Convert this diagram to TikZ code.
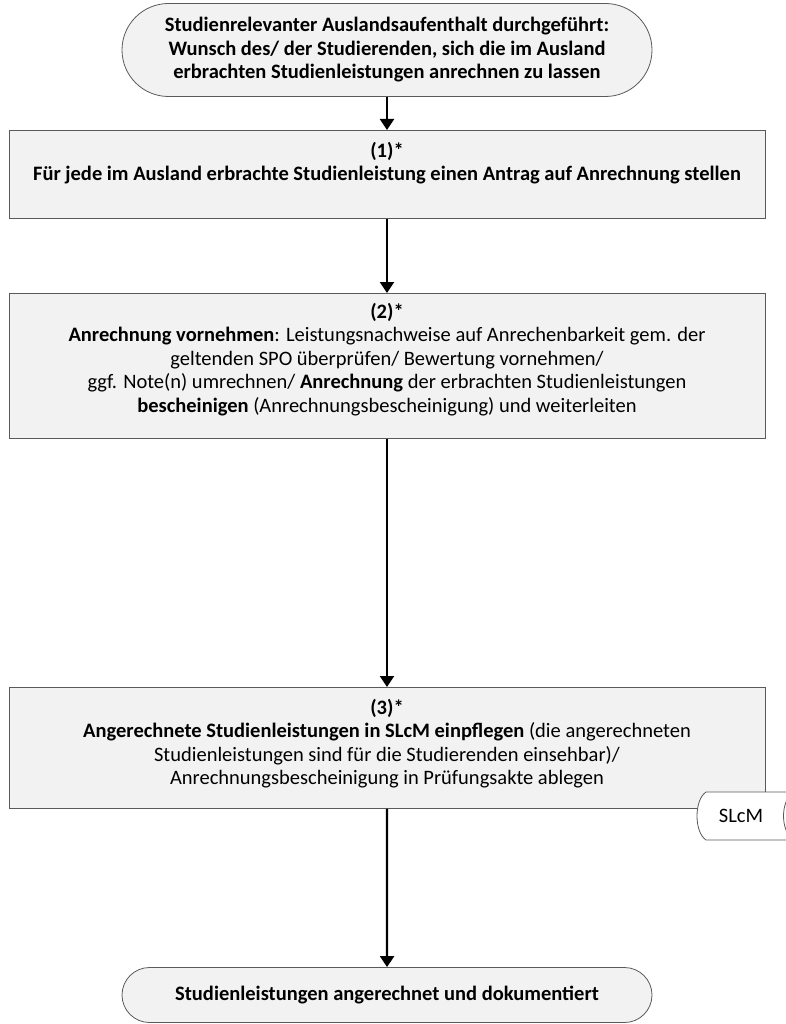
\documentclass[tikz,border=0pt]{standalone}
\usepackage{fontspec}
\setmainfont{Carlito}
\usepackage{xcolor}
\usetikzlibrary{shapes.misc,arrows.meta,positioning}
\definecolor{boxfill}{HTML}{F2F2F2}
\definecolor{boxline}{HTML}{5A5A5A}

\begin{document}
\begin{tikzpicture}[
    x=1pt, y=-1pt,
    txt/.style={font=\fontsize{20.5}{23.5}\selectfont, align=center, inner sep=0pt},
    btxt/.style={font=\fontsize{20.5}{23.5}\selectfont\bfseries, align=center, inner sep=0pt},
    term/.style={rounded rectangle, draw=boxline, fill=boxfill, line width=0.8pt, minimum width=530pt},
    proc/.style={rectangle, draw=boxline, fill=boxfill, line width=0.8pt, minimum width=756pt, anchor=north},
    flow/.style={-{Triangle[width=14pt,length=11pt]}, line width=2.2pt}
]
\useasboundingbox (0,0) rectangle (786,1024);
\clip (0,0) rectangle (786,1024);

\node[term, btxt, minimum height=93pt] (start) at (387,50) {Studienrelevanter Auslandsaufenthalt durchgeführt:\\Wunsch des/ der Studierenden, sich die im Ausland\\erbrachten Studienleistungen anrechnen zu lassen};

% Schritt 1
\node[proc, minimum height=88pt] (act1) at (387,130) {};
\node[btxt, anchor=north] (act1txt) at ([yshift=-12pt]act1.north) {(1)*\\Für jede im Ausland erbrachte Studienleistung einen Antrag auf Anrechnung stellen};

% Schritt 2
\node[proc, minimum height=145pt] (act2) at (387,293) {};
\node[txt, anchor=north] (act2txt) at ([yshift=-10pt]act2.north) {\textbf{(2)*}\\\textbf{Anrechnung vornehmen}: Leistungsnachweise auf Anrechenbarkeit gem. der\\geltenden SPO überprüfen/ Bewertung vornehmen/\\ggf. Note(n) umrechnen/ \textbf{Anrechnung} der erbrachten Studienleistungen\\\textbf{bescheinigen} (Anrechnungsbescheinigung) und weiterleiten};

% Schritt 3
\node[proc, minimum height=121pt] (act3) at (387,687) {};
\node[txt, anchor=north] (act3txt) at ([yshift=-12pt]act3.north) {\textbf{(3)*}\\\textbf{Angerechnete Studienleistungen in SLcM einpflegen} (die angerechneten\\Studienleistungen sind für die Studierenden einsehbar)/\\Anrechnungsbescheinigung in Prüfungsakte ablegen};

% Datenspeicher SLcM
\draw[boxline, fill=white, line width=0.8pt] (706,792) -- (794,792) .. controls (780,800) and (780,832) .. (794,840) -- (706,840) .. controls (694,832) and (694,800) .. (706,792) -- cycle;
\node[txt] (slcm) at (741,816) {SLcM};

\node[term, btxt, minimum height=55pt] (finish) at (387,995) {Studienleistungen angerechnet und dokumentiert};

\draw[flow] (start) -- (act1);
\draw[flow] (act1) -- (act2);
\draw[flow] (act2) -- (act3);
\draw[flow] (act3) -- (finish);
\end{tikzpicture}
\end{document}
